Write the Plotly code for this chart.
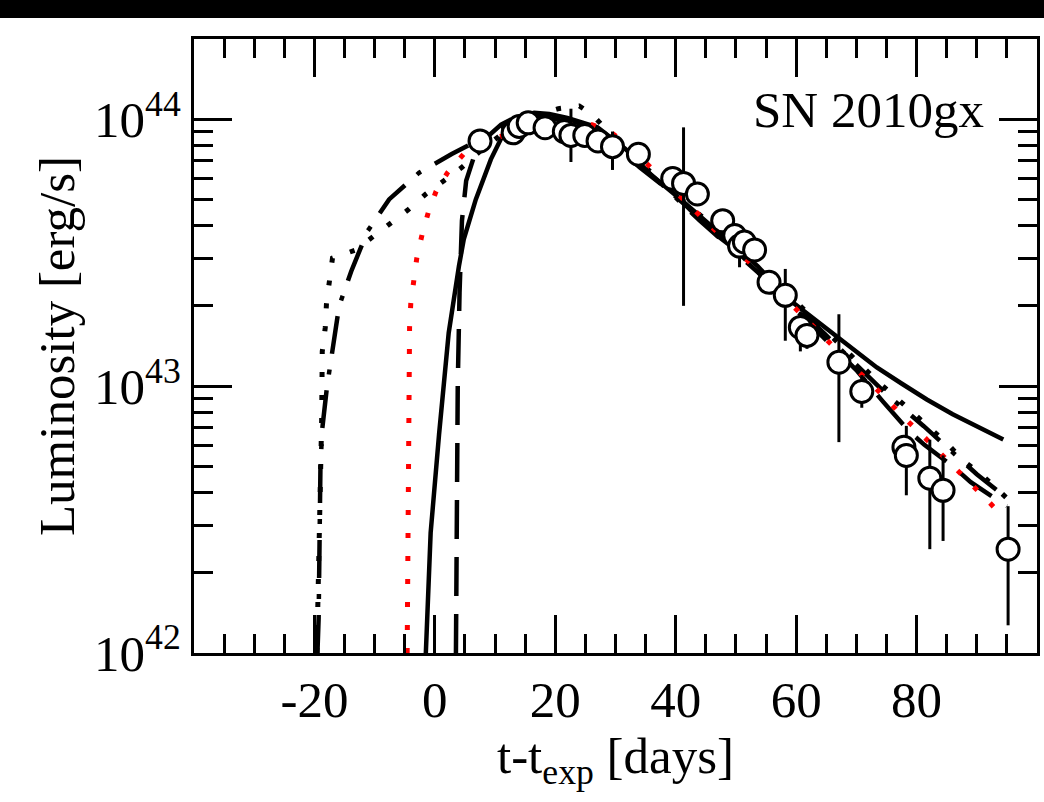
import numpy as np
import plotly.graph_objects as go

# ---------------- data ----------------
# Observed bolometric light curve of SN 2010gx (luminosity in units of 1e43 erg/s)
obs_t = [7.5, 13.0, 14.0, 15.5, 18.3, 21.5, 22.6, 24.9, 27.1, 29.5, 33.8, 39.5, 41.3, 43.6,
         47.8, 49.8, 50.6, 51.4, 53.1, 55.5, 58.2, 60.7, 61.8, 67.1, 70.9, 77.9, 78.3,
         82.2, 84.4, 95.2]
obs_L = [8.3, 8.9, 9.4, 9.7, 9.3, 9.0, 8.7, 8.7, 8.3, 7.9, 7.4, 6.0, 5.75, 5.25,
         4.17, 3.67, 3.35, 3.47, 3.24, 2.45, 2.19, 1.66, 1.55, 1.23, 0.955, 0.59, 0.55,
         0.452, 0.407, 0.245]
obs_hi = [None, None, None, None, None, None, 10.96, None, None, 9.0, None, None, 9.33, None,
          None, None, 3.94, None, None, None, 2.75, 1.9, None, 1.86, 1.10, None, 0.71,
          0.63, 0.55, 0.355]
obs_lo = [None, None, None, None, None, None, 6.92, None, None, 6.46, None, None, 2.0, None,
          None, None, 2.79, None, None, None, 1.48, 1.35, 1.38, 0.617, 0.83, None, 0.39,
          0.245, 0.263, 0.127]

# Model curves: time [days] and log10 luminosity [erg/s]
solid_t = [-1.5, -0.7, 0.7, 2.3, 4.0, 4.8, 6.8, 9.3, 11.7, 14.0, 16.5, 19.0, 22.0, 27.0,
           31.6, 36.0, 40.3, 45.0, 49.1, 53.6, 58.5, 62.5, 66.8, 70.0, 73.4, 77.5, 81.7,
           86.0, 89.9, 94.4]
solid_logL = [42.0, 42.45, 42.82, 43.20, 43.45, 43.55, 43.70, 43.85, 43.96, 44.01, 44.025,
              44.02, 44.005, 43.97, 43.89, 43.79, 43.71, 43.62, 43.54, 43.45, 43.33, 43.26,
              43.19, 43.13, 43.07, 43.01, 42.95, 42.895, 42.85, 42.80]

dashed_t = [3.5, 3.6, 3.8, 4.1, 4.5, 5.2, 6.5, 8.5, 11.0, 13.5, 15.5, 18.0, 22.0, 26.0,
            30.0, 34.0, 38.0, 42.0, 46.0, 50.0, 54.0, 58.0, 62.0, 66.0, 70.0, 74.5, 78.8,
            81.3, 86.0, 89.0, 95.0]
dashed_logL = [42.0, 42.5, 43.0, 43.35, 43.62, 43.77, 43.86, 43.93, 43.98, 44.01, 44.02,
               44.01, 43.99, 43.96, 43.90, 43.82, 43.75, 43.67, 43.58, 43.51, 43.42, 43.33,
               43.24, 43.15, 43.06, 42.94, 42.83, 42.78, 42.70, 42.64, 42.55]

red_t = [-4.6, -4.45, -4.3, -4.2, -4.0, -3.5, -3.0, -2.1, -1.1, 0.2, 2.1, 4.8, 7.8, 11.4,
         15.0, 18.5, 22.5, 26.1, 29.3, 32.2, 34.9, 37.5, 40.3, 43.1, 45.8, 51.0, 56.7,
         59.5, 62.1, 64.8, 67.4, 70.1, 72.9, 75.4, 78.0, 80.8, 83.5, 86.1, 88.8, 91.4, 94.0]
red_logL = [42.0, 42.6, 43.0, 43.22, 43.31, 43.40, 43.48, 43.57, 43.65, 43.73, 43.80, 43.87,
            43.91, 43.94, 43.96, 43.97, 43.98, 43.98, 43.95, 43.90, 43.84, 43.78, 43.72,
            43.66, 43.60, 43.49, 43.37, 43.30, 43.24, 43.18, 43.12, 43.06, 43.00, 42.94,
            42.88, 42.82, 42.76, 42.70, 42.64, 42.58, 42.52]

dotted_t = [-19.6, -19.2, -19.0, -18.8, -18.7, -18.2, -18.0, -17.5, -17.0, -13.2, -10.2,
            -7.3, -4.5, -1.5, 1.5, 4.5, 8.0, 12.0, 16.0, 20.5, 24.0, 26.0, 29.0, 33.0, 38.0,
            43.0, 48.0, 53.0, 58.0, 63.0, 68.4, 71.4, 73.9, 76.7, 79.5, 82.3, 85.3, 87.8,
            90.7, 93.6, 95.0]
dotted_logL = [42.0, 42.36, 42.61, 42.87, 43.13, 43.22, 43.31, 43.39, 43.48, 43.51, 43.56,
               43.61, 43.66, 43.72, 43.77, 43.82, 43.89, 43.96, 44.01, 44.04, 44.05, 44.02,
               43.95, 43.86, 43.76, 43.66, 43.57, 43.47, 43.36, 43.25, 43.13, 43.07, 43.01,
               42.955, 42.90, 42.84, 42.78, 42.72, 42.67, 42.61, 42.58]

dashdot_t = [-19.5, -19.3, -19.0, -18.7, -17.9, -17.0, -15.9, -13.9, -11.2, -7.6, -2.6, 2.8,
             8.0, 13.0, 17.0, 22.0, 27.0, 32.0, 38.0, 44.0, 50.0, 55.0, 60.0, 65.0, 70.0,
             75.0, 81.2, 85.5, 90.0, 95.0]
dashdot_logL = [42.0, 42.13, 42.70, 42.84, 43.00, 43.14, 43.30, 43.43, 43.58, 43.70, 43.80,
                43.87, 43.93, 43.99, 44.01, 44.00, 43.96, 43.87, 43.75, 43.62, 43.50, 43.40,
                43.30, 43.19, 43.08, 42.97, 42.85, 42.76, 42.67, 42.58]

x_tick_vals = [-20, 0, 20, 40, 60, 80]
y_tick_vals = [1e42, 1e43, 1e44]
y_tick_text = ["10<sup>42</sup>", "10<sup>43</sup>", "10<sup>44</sup>"]
y_minor_vals = [m * 10.0 ** e for e in (42, 43) for m in range(2, 10)] + [2e44]

FONT = "Liberation Serif, Times New Roman, serif"

# ---------------- figure ----------------
fig = go.Figure()

def curve(t, logL, color, width, dash):
    fig.add_trace(go.Scatter(x=t, y=np.power(10.0, logL), mode="lines",
                             line=dict(color=color, width=width, dash=dash),
                             hoverinfo="skip", showlegend=False))

curve(dashdot_t, dashdot_logL, "black", 4.5, "38px,16px,5px,16px")
curve(dotted_t, dotted_logL, "black", 5, "5px,18px")
curve(dashed_t, dashed_logL, "black", 4.5, "39px,18px")
curve(solid_t, solid_logL, "black", 4.5, "solid")
curve(red_t, red_logL, "red", 5, "5px,18px")

L = np.array(obs_L) * 1e43
hi = np.array([h * 1e43 if h is not None else np.nan for h in obs_hi])
lo = np.array([v * 1e43 if v is not None else np.nan for v in obs_lo])
err_plus = np.where(np.isnan(hi), 0.0, hi - L)
err_minus = np.where(np.isnan(lo), 0.0, L - lo)

fig.add_trace(go.Scatter(
    x=obs_t, y=L, mode="markers",
    marker=dict(symbol="circle", size=22, color="white", line=dict(color="black", width=3)),
    error_y=dict(type="data", symmetric=False, array=err_plus, arrayminus=err_minus,
                 color="black", thickness=3, width=0),
    showlegend=False))

axis_common = dict(showline=True, linecolor="black", linewidth=3, mirror="allticks",
                   ticks="inside", ticklen=38, tickwidth=3, tickcolor="black",
                   showgrid=False, zeroline=False,
                   tickfont=dict(family=FONT, size=51, color="black"))

fig.update_xaxes(range=[-40, 100], tickmode="array", tickvals=x_tick_vals,
                 ticktext=[str(v) for v in x_tick_vals],
                 minor=dict(dtick=5, tick0=0, ticks="inside", ticklen=19, tickwidth=3,
                            tickcolor="black", showgrid=False),
                 title=dict(text="t-t<sub>exp</sub> [days]",
                            font=dict(family=FONT, size=51, color="black"), standoff=10),
                 **axis_common)
fig.update_yaxes(type="log", range=[42, np.log10(2e44)], tickmode="array",
                 tickvals=y_tick_vals, ticktext=y_tick_text,
                 minor=dict(tickmode="array", tickvals=y_minor_vals, ticks="inside",
                            ticklen=19, tickwidth=3, tickcolor="black", showgrid=False),
                 title=dict(text="Luminosity [erg/s]",
                            font=dict(family=FONT, size=51, color="black"), standoff=4),
                 **axis_common)

fig.add_annotation(text="SN 2010gx", xref="paper", yref="paper", x=0.94, y=0.885,
                   xanchor="right", yanchor="middle", showarrow=False,
                   font=dict(family=FONT, size=51, color="black"))

# black band across the top of the picture
fig.add_shape(type="rect", xref="paper", yref="paper", x0=-1, x1=2, y0=1.0342, y1=1.2,
              fillcolor="black", line=dict(width=0), layer="above")

fig.update_layout(width=1044, height=802,
                  margin=dict(l=194, r=4, t=39, b=149),
                  paper_bgcolor="white", plot_bgcolor="white",
                  font=dict(family=FONT, color="black"))

fig.write_html("out.html", config={"displayModeBar": False},
               post_script="document.body.style.margin='0';document.body.style.padding='0';")
